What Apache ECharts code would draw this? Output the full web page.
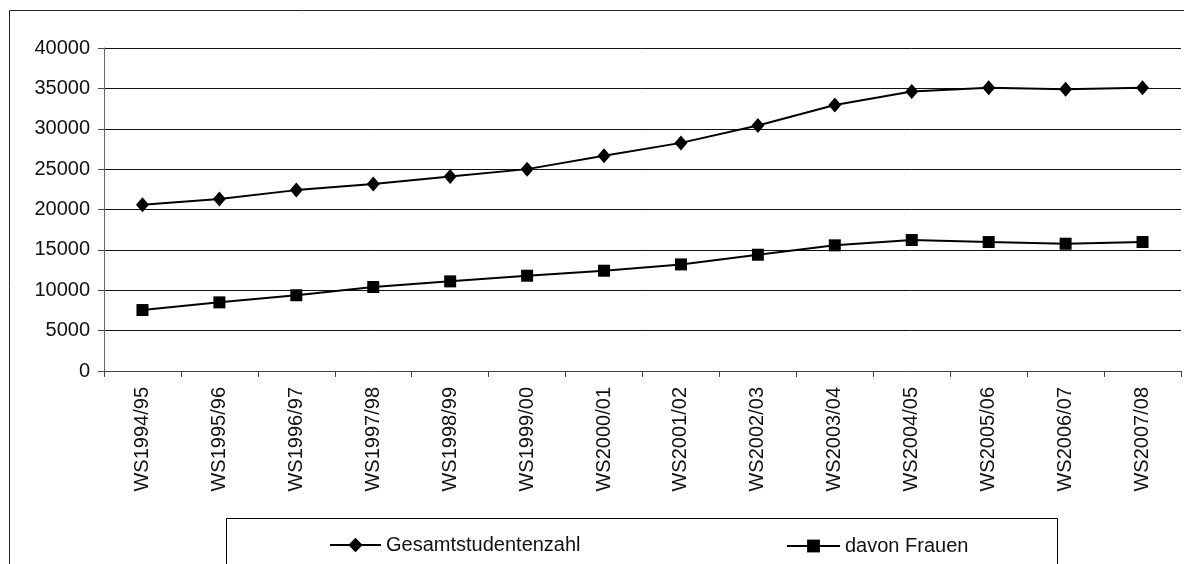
<!DOCTYPE html>
<html>
<head>
<meta charset="utf-8">
<script src="https://cdn.jsdelivr.net/npm/echarts@6/dist/echarts.min.js"></script>
<style>html,body{margin:0;padding:0;background:#fff;}#c{width:1184px;height:564px;}</style>
</head>
<body>
<div id="c"></div>
<script>
const categories = ['WS1994/95','WS1995/96','WS1996/97','WS1997/98','WS1998/99','WS1999/00','WS2000/01','WS2001/02','WS2002/03','WS2003/04','WS2004/05','WS2005/06','WS2006/07','WS2007/08'];
const gesamt = [20600, 21300, 22400, 23150, 24100, 25000, 26650, 28250, 30400, 32950, 34600, 35080, 34880, 35080];
const frauen = [7550, 8500, 9380, 10400, 11100, 11800, 12420, 13200, 14400, 15560, 16220, 15970, 15760, 15970];
const yTicks = [0, 40000, 5000];

const font = '"Liberation Sans", Arial, sans-serif';
const chart = echarts.init(document.getElementById('c'));
chart.setOption({
  animation: false,
  backgroundColor: '#fff',
  grid: { left: 104, right: 3, top: 48, bottom: 193, containLabel: false },
  graphic: [
    { type: 'rect', shape: { x: 9.5, y: 10.5, width: 1200, height: 600 }, style: { fill: 'none', stroke: '#222', lineWidth: 1 }, silent: true, z: 0 },
    { type: 'rect', shape: { x: 226.5, y: 518.5, width: 831, height: 100 }, style: { fill: 'none', stroke: '#000', lineWidth: 1 }, silent: true, z: 0 }
  ],
  legend: [
    { data: ['Gesamtstudentenzahl'], left: 324, top: 530, itemWidth: 51, itemHeight: 18, itemGap: 0,
      textStyle: { fontFamily: font, fontSize: 20, color: '#111' } },
    { data: ['davon Frauen'], left: 781, top: 531, itemWidth: 53, itemHeight: 16, itemGap: 0,
      textStyle: { fontFamily: font, fontSize: 20, color: '#111' } }
  ],
  xAxis: {
    type: 'category',
    data: categories,
    boundaryGap: true,
    axisLine: { lineStyle: { color: '#444', width: 1 } },
    axisTick: { show: true, alignWithLabel: false, length: 6, lineStyle: { color: '#444' } },
    axisLabel: { rotate: 90, margin: 16, fontFamily: font, fontSize: 20, color: '#111' },
    splitLine: { show: false }
  },
  yAxis: {
    type: 'value',
    min: yTicks[0], max: yTicks[1], interval: yTicks[2],
    axisLine: { show: true, lineStyle: { color: '#666', width: 1 } },
    axisTick: { show: true, length: 6, lineStyle: { color: '#444' } },
    axisLabel: { margin: 14, fontFamily: font, fontSize: 20, color: '#111', formatter: function (v) { return String(v); } },
    splitLine: { show: true, lineStyle: { color: '#111', width: 1 } }
  },
  series: [
    { name: 'Gesamtstudentenzahl', type: 'line', data: gesamt, symbol: 'diamond', symbolSize: [13, 15],
      lineStyle: { color: '#000', width: 2 }, itemStyle: { color: '#000' } },
    { name: 'davon Frauen', type: 'line', data: frauen, symbol: 'rect', symbolSize: 12,
      lineStyle: { color: '#000', width: 2 }, itemStyle: { color: '#000' } }
  ]
});
</script>
</body>
</html>
